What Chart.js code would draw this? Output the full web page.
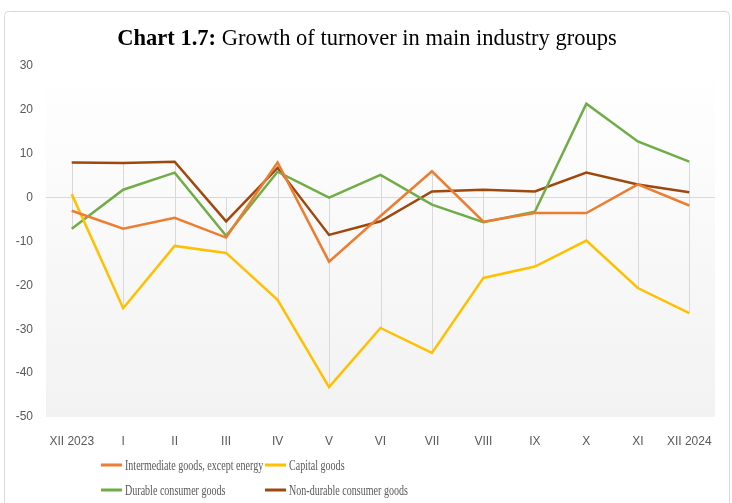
<!DOCTYPE html>
<html>
<head>
<meta charset="utf-8">
<script src="https://cdn.jsdelivr.net/npm/chart.js@4.4.1/dist/chart.umd.min.js"></script>
<style>
  html, body { margin: 0; padding: 0; background: #fff; }
  #wrap { width: 732px; height: 503px; }
</style>
</head>
<body>
<div id="wrap"><canvas id="chart" width="732" height="503"></canvas></div>
<script>
var months = ["XII 2023", "I", "II", "III", "IV", "V", "VI", "VII", "VIII", "IX", "X", "XI", "XII 2024"];
var intermediate = [-3.0, -7.1, -4.6, -9.1, 8.0, -14.6, -4.2, 6.0, -5.5, -3.5, -3.5, 3.0, -1.8];
var capital = [0.8, -25.2, -11.0, -12.6, -23.3, -43.2, -29.7, -35.4, -18.3, -15.7, -9.8, -20.6, -26.3];
var durable = [-7.1, 1.8, 5.7, -8.7, 5.9, 0.0, 5.2, -1.6, -5.6, -3.2, 21.4, 12.8, 8.2];
var nonDurable = [8.0, 7.9, 8.2, -5.4, 6.8, -8.5, -5.4, 1.4, 1.8, 1.4, 5.7, 3.0, 1.2];
var seriesNames = ["Intermediate goods, except energy", "Capital goods", "Durable consumer goods", "Non-durable consumer goods"];
var seriesColors = ["#ED7D31", "#FFC000", "#70AD47", "#9E480E"];
var yMin = -50, yMax = 30, yStep = 10;

// frame, title, plot background and high-low lines
var decor = {
    id: 'decor',
    beforeDraw: function (chart) {
        var c = chart.ctx, a = chart.chartArea;
        c.save();
        c.fillStyle = '#fff';
        c.fillRect(0, 0, chart.width, chart.height);
        c.strokeStyle = '#d9d9d9';
        c.lineWidth = 1;
        c.beginPath();
        c.roundRect(4.5, 11.5, 725, 520, 4);
        c.stroke();
        var g = c.createLinearGradient(0, a.top, 0, a.bottom);
        g.addColorStop(0, '#ffffff');
        g.addColorStop(1, '#f2f2f2');
        c.fillStyle = g;
        c.fillRect(a.left, a.top, a.right - a.left, a.bottom - a.top);

        // title with bold prefix
        var bold = 'Chart 1.7:', rest = ' Growth of turnover in main industry groups';
        c.textBaseline = 'alphabetic';
        c.fillStyle = '#000';
        c.font = 'bold 22.5px "Liberation Serif"';
        var w1 = c.measureText(bold).width;
        c.font = '22.5px "Liberation Serif"';
        var w2 = c.measureText(rest).width;
        var x0 = 367 - (w1 + w2) / 2;
        c.font = 'bold 22.5px "Liberation Serif"';
        c.fillText(bold, x0, 45);
        c.font = '22.5px "Liberation Serif"';
        c.fillText(rest, x0 + w1, 45);
        c.restore();
    },
    beforeDatasetsDraw: function (chart) {
        var c = chart.ctx, xs = chart.scales.x, ys = chart.scales.y;
        var all = [intermediate, capital, durable, nonDurable];
        c.save();
        c.strokeStyle = '#d9d9d9';
        c.lineWidth = 1;
        for (var i = 0; i < months.length; i++) {
            var hi = 0, lo = 0;
            for (var s = 0; s < all.length; s++) {
                hi = Math.max(hi, all[s][i]);
                lo = Math.min(lo, all[s][i]);
            }
            var x = Math.round(xs.getPixelForValue(i)) + 0.5;
            c.beginPath();
            c.moveTo(x, ys.getPixelForValue(hi));
            c.lineTo(x, ys.getPixelForValue(lo));
            c.stroke();
        }
        c.restore();
    },
    afterDraw: function (chart) {
        // legend laid out in two rows, two columns
        var c = chart.ctx;
        var pos = [[101, 465], [265, 465], [101, 490], [265, 490]];
        c.save();
        c.textBaseline = 'middle';
        for (var i = 0; i < seriesNames.length; i++) {
            c.strokeStyle = seriesColors[i];
            c.lineWidth = 3;
            c.beginPath();
            c.moveTo(pos[i][0], pos[i][1]);
            c.lineTo(pos[i][0] + 21, pos[i][1]);
            c.stroke();
            c.save();
            c.translate(pos[i][0] + 24, pos[i][1] + 1);
            c.scale(0.67, 1);
            c.font = '15px "Liberation Serif"';
            c.fillStyle = '#595959';
            c.fillText(seriesNames[i], 0, 0);
            c.restore();
        }
        c.restore();
    }
};

var datasets = [intermediate, capital, durable, nonDurable].map(function (d, i) {
    return {
        label: seriesNames[i],
        data: d,
        borderColor: seriesColors[i],
        backgroundColor: seriesColors[i],
        borderWidth: 2.5,
        pointRadius: 0,
        tension: 0,
        fill: false
    };
});

new Chart(document.getElementById('chart'), {
    type: 'line',
    data: { labels: months, datasets: datasets },
    options: {
        responsive: false,
        animation: false,
        events: [],
        layout: { padding: { left: 0, right: 17, top: 66, bottom: 56 } },
        plugins: {
            legend: { display: false },
            title: { display: false },
            tooltip: { enabled: false }
        },
        scales: {
            x: {
                offset: true,
                clip: false,
                grid: { display: false },
                border: { display: false },
                ticks: {
                    color: '#595959',
                    font: { family: 'Liberation Sans', size: 12 },
                    padding: 9,
                    maxRotation: 0,
                    autoSkip: false
                },
                afterFit: function (s) { s.height = 30; }
            },
            y: {
                min: yMin,
                max: yMax,
                grid: {
                    drawTicks: false,
                    color: function (ctx) { return ctx.tick && ctx.tick.value === 0 ? '#d9d9d9' : 'rgba(0,0,0,0)'; }
                },
                border: { display: false },
                ticks: {
                    stepSize: yStep,
                    color: '#595959',
                    font: { family: 'Liberation Sans', size: 12 },
                    padding: 13
                },
                afterFit: function (s) { s.width = 46; }
            }
        }
    },
    plugins: [decor]
});
</script>
</body>
</html>
